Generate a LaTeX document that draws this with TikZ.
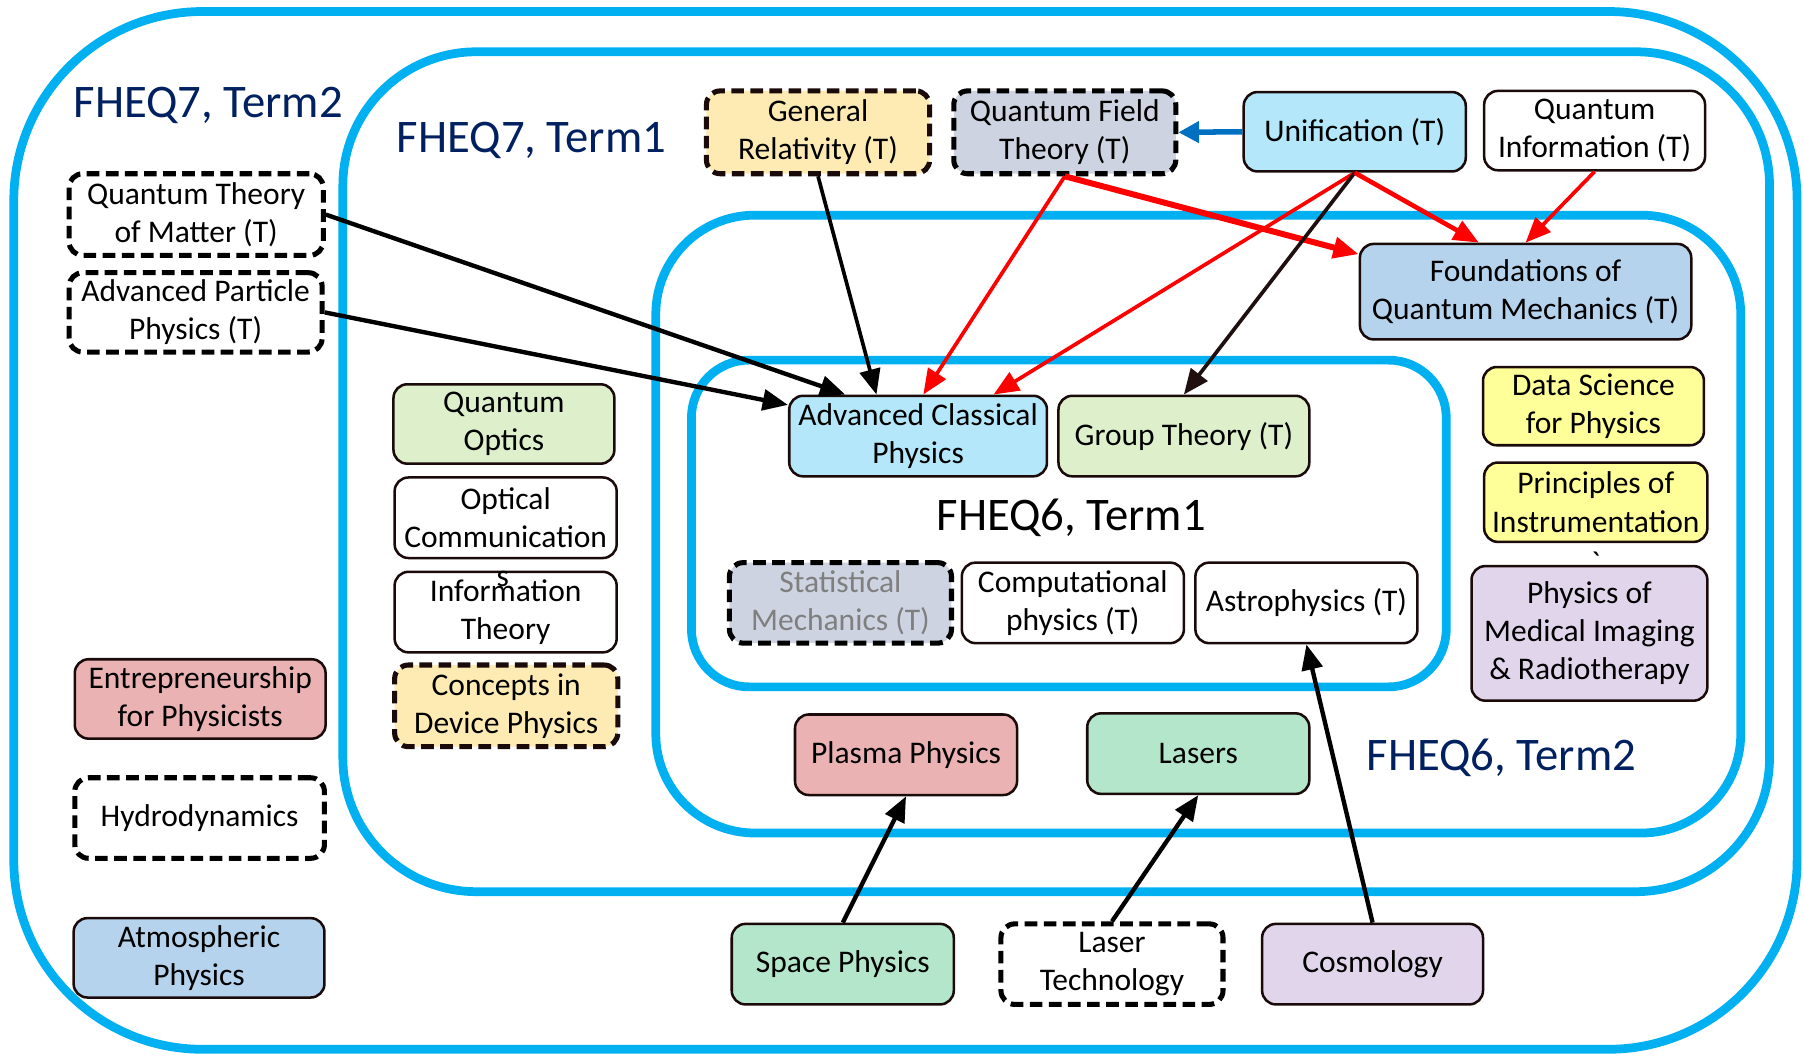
\documentclass[tikz,border=0pt]{standalone}
\usepackage{fontspec}
\setmainfont{Carlito}
\newfontfamily\rawfont{Carlito}
\usetikzlibrary{arrows.meta,calc}
\definecolor{regblue}{HTML}{00B0F0}
\definecolor{navy}{HTML}{002060}
\definecolor{edge}{HTML}{1A0A0A}
\definecolor{cpink}{HTML}{EAB2B2}
\definecolor{cltblue}{HTML}{B5D3EC}
\definecolor{cltgreen}{HTML}{DDEFCB}
\definecolor{cyel}{HTML}{FEEBB3}
\definecolor{cgray}{HTML}{CDD3E0}
\definecolor{ccyan}{HTML}{B3E7F9}
\definecolor{cbyel}{HTML}{FFFF99}
\definecolor{clav}{HTML}{E1D5EB}
\definecolor{cmint}{HTML}{B3E6CA}
\definecolor{arrblue}{HTML}{0070C0}
\definecolor{arrbrown}{HTML}{1F0F0F}
\definecolor{txtgray}{HTML}{7F7F7F}
\newcommand\nodebox[7]{\node[#6, minimum width={(#4-#2)*0.5pt}, minimum height={(#5-#3)*0.5pt}] (#1) at ({(#2+#4)/2},{(#3+#5)/2+1}) {#7};}
\tikzset{
  box/.style={draw=edge, line width=1.1pt, rounded corners=6pt, align=center, inner sep=0pt, font=\fontsize{13.7}{16.6}\selectfont},
  dbox/.style={box, draw=black, line width=2.2pt, dash pattern=on 5.5pt off 2.8pt},
  region/.style={draw=regblue, line width=3.8pt},
  reglabel/.style={font=\fontsize{20.3}{24}\selectfont, text=navy, inner sep=0pt},
  blkarr/.style={draw=black, line width=1.9pt, -{Triangle[length=11pt,width=9pt]}},
  brnarr/.style={draw=arrbrown, line width=1.6pt, -{Triangle[length=11pt,width=9pt]}},
  redarr/.style={draw=red, line width=1.6pt, -{Triangle[length=11pt,width=9pt]}},
  bluarr/.style={draw=arrblue, line width=2.4pt, -{Triangle[length=9pt,width=9pt]}},
  plaintext/.style={font=\fontsize{13.7}{16.6}\selectfont, inner sep=0pt}
}
\begin{document}
\begin{tikzpicture}[x=0.5pt,y=-0.5pt]
\useasboundingbox (0,0) rectangle (1568,918);
% regions
\draw[region, rounded corners=82pt] (12,10) rectangle (1562,912);
\draw[region, rounded corners=58pt] (298,45) rectangle (1538,775);
\draw[region, rounded corners=43pt] (570,187) rectangle (1513,724);
\draw[region, rounded corners=25pt] (601,313) rectangle (1257,597);
\node[reglabel] (L7T2) at (181,92) {FHEQ7, Term2};
\node[reglabel] (L7T1) at (462,122) {FHEQ7, Term1};
\node[reglabel, text=black] (L6T1) at (931,450) {FHEQ6, Term1};
\node[reglabel] (L6T2) at (1305,659) {FHEQ6, Term2};
% left column
\nodebox{QTM}{60}{150}{281}{221}{dbox, fill=white}{Quantum Theory\\of Matter (T)}
\nodebox{APP}{60}{236}{280}{305}{dbox, fill=white}{Advanced Particle\\Physics (T)}
\nodebox{ENT}{65}{572}{283}{641}{box, fill=cpink}{Entrepreneurship\\for Physicists}
\nodebox{HYD}{65}{675}{282}{745}{dbox, fill=white}{Hydrodynamics}
\nodebox{ATM}{64}{797}{282}{866}{box, fill=cltblue}{Atmospheric\\Physics}
% second column
\nodebox{QO}{342}{333}{534}{402}{box, fill=cltgreen}{Quantum\\Optics}
\nodebox{OC}{343}{414}{536}{484}{box, fill=white}{Optical\\Communication}
\nodebox{IT}{343}{496}{536}{566}{box, fill=white}{Information\\Theory}
\node[plaintext] (OCs) at (437,503) {s};
\nodebox{CDP}{343}{577}{537}{648}{dbox, fill=cyel, draw=edge}{Concepts in\\Device Physics}
% top row
\nodebox{GR}{614}{78}{808}{150}{dbox, fill=cyel, draw=edge}{General\\Relativity (T)}
\nodebox{QFT}{829}{78}{1022}{150}{dbox, fill=cgray}{Quantum Field\\Theory (T)}
\nodebox{UNI}{1081}{79}{1274}{148}{box, fill=ccyan}{Unification (T)}
\nodebox{QI}{1290}{78}{1482}{147}{box, fill=white}{Quantum\\Information (T)}
\nodebox{FQM}{1182}{211}{1470}{294}{box, fill=cltblue}{Foundations of\\Quantum Mechanics (T)}
% right column
\nodebox{DS}{1289}{318}{1481}{386}{box, fill=cbyel}{Data Science\\for Physics}
\nodebox{PI}{1290}{401}{1484}{470}{box, fill=cbyel}{Principles of\\Instrumentation}
\node[plaintext] (tick) at (1387,489) {\rawfont\char"60};
\nodebox{PMI}{1279}{491}{1484}{608}{box, fill=clav}{Physics of\\Medical Imaging\\\& Radiotherapy}
% FHEQ6 term1
\nodebox{ACP}{686}{343}{910}{413}{box, fill=ccyan}{Advanced Classical\\Physics}
\nodebox{GT}{920}{343}{1138}{413}{box, fill=cltgreen}{Group Theory (T)}
\nodebox{SM}{634}{488}{827}{558}{dbox, fill=cgray, text=txtgray}{Statistical\\Mechanics (T)}
\nodebox{CP}{836}{488}{1029}{558}{box, fill=white}{Computational\\physics (T)}
\nodebox{AST}{1039}{488}{1232}{558}{box, fill=white}{Astrophysics (T)}
% FHEQ6 term2
\nodebox{PP}{691}{620}{884}{690}{box, fill=cpink}{Plasma Physics}
\nodebox{LAS}{945}{619}{1138}{689}{box, fill=cmint}{Lasers}
% bottom row
\nodebox{SP}{636}{802}{829}{872}{box, fill=cmint}{Space Physics}
\nodebox{LT}{870}{802}{1063}{872}{dbox, fill=white}{Laser\\Technology}
\nodebox{COS}{1097}{802}{1289}{872}{box, fill=clav}{Cosmology}
% arrows
\draw[blkarr] (QTM.east) -- ($(ACP.north west)!0.22!(ACP.north east)$);
\draw[blkarr] (APP.east) -- ($(ACP.north west)+(0,9)$);
\draw[blkarr, line width=1.6pt] (GR.south) -- ($(ACP.north west)!0.34!(ACP.north east)$);
\draw[redarr] (QFT.south) -- ($(ACP.north west)!0.52!(ACP.north east)$);
\draw[redarr, line width=2.6pt] (QFT.south) -- ($(FQM.north west)+(0,10)$);
\draw[redarr] (UNI.south) -- ($(ACP.north west)!0.79!(ACP.north east)$);
\draw[brnarr] (UNI.south) -- (GT.north);
\draw[redarr, line width=2pt] (UNI.south) -- ($(FQM.north west)!0.36!(FQM.north east)$);
\draw[redarr] (QI.south) -- (FQM.north);
\draw[bluarr] (UNI.west) -- (QFT.east);
\draw[blkarr] (SP.north) -- (PP.south);
\draw[blkarr] (LT.north) -- (LAS.south);
\draw[blkarr] (COS.north) -- (AST.south);
\end{tikzpicture}
\end{document}
